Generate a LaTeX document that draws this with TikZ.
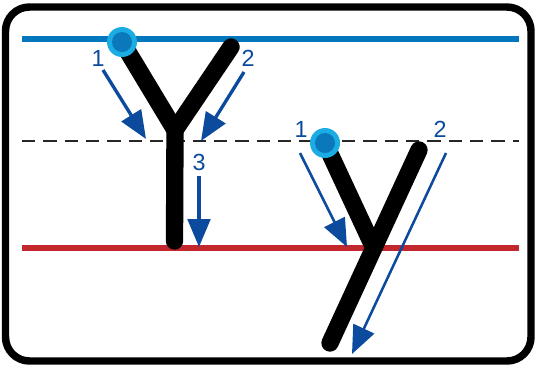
\documentclass[tikz,border=0pt]{standalone}
\usepackage{fontspec}
\setmainfont{Liberation Sans}
\usetikzlibrary{arrows.meta}
\definecolor{topblue}{RGB}{2,119,190}
\definecolor{basered}{RGB}{193,39,45}
\definecolor{arrowblue}{RGB}{11,74,156}
\definecolor{dotlight}{RGB}{26,172,227}
\definecolor{dotdark}{RGB}{10,120,186}
\tikzset{
  guide/.style={line width=3.8pt},
  strokeline/.style={line width=13pt, line cap=round, line join=round, black},
  guidearrow/.style={draw=arrowblue, line width=2.5pt, -{Triangle[length=21pt, width=17pt, fill=arrowblue]}},
  thinarrow/.style={draw=arrowblue, line width=1.9pt, -{Triangle[length=21pt, width=17pt, fill=arrowblue]}},
  numlabel/.style={text=arrowblue, font=\fontsize{17.5}{18}\selectfont, inner sep=0pt},
  startdot/.style={circle, fill=dotlight, minimum size=22.5pt, inner sep=0pt},
  startdotin/.style={circle, fill=dotdark, minimum size=15pt, inner sep=0pt}
}
\begin{document}
\begin{tikzpicture}[x=0.75pt, y=-0.75pt]
\useasboundingbox (0,0) rectangle (536,369);
\fill[white] (0,0) rectangle (536,369);
% frame
\draw[line width=5.6pt, rounded corners=18pt] (5.5,7) rectangle (531,361);
% guide lines
\draw[guide, topblue] (22,39) -- (519,39);
\draw[line width=2pt, black!85, dash pattern=on 10pt off 6pt] (22,141) -- (519,141);
\draw[guide, basered] (22,248) -- (519,248);

% Capital Y
\coordinate (Ya) at (122,42);
\coordinate (Yb) at (231,47);
\coordinate (Yj) at (175,130);
\coordinate (Ye) at (174.5,241);
\draw[strokeline] (Ya) -- (Yj) -- (Ye);
\draw[strokeline] (Yb) -- (Yj);
\node[startdot] (d1) at (Ya) {};
\node[startdotin] (d1i) at (Ya) {};

\node[numlabel] (n1) at (98,58) {1};
\node[numlabel] (n2) at (248,58) {2};
\node[numlabel] (n3) at (199,162) {3};
\coordinate (a1s) at (103,70);
\coordinate (a1e) at (146,139);
\coordinate (a2s) at (244,72);
\coordinate (a2e) at (201,141);
\coordinate (a3s) at (199,176);
\coordinate (a3e) at (199,247);
\draw[guidearrow] (a1s) -- (a1e);
\draw[guidearrow] (a2s) -- (a2e);
\draw[guidearrow] (a3s) -- (a3e);

% small y
\coordinate (ya) at (325,143);
\coordinate (yj) at (372,244);
\coordinate (yb) at (419,150);
\coordinate (ye) at (330,343);
\draw[strokeline] (ya) -- (yj);
\draw[strokeline] (yb) -- (ye);
\node[startdot] (d2) at (ya) {};
\node[startdotin] (d2i) at (ya) {};

\node[numlabel] (m1) at (301,129) {1};
\node[numlabel] (m2) at (440,129) {2};
\coordinate (b1s) at (300,153);
\coordinate (b1e) at (347,247);
\coordinate (b2s) at (446,153);
\coordinate (b2e) at (352,354);
\draw[thinarrow] (b1s) -- (b1e);
\draw[thinarrow] (b2s) -- (b2e);
\end{tikzpicture}
\end{document}
